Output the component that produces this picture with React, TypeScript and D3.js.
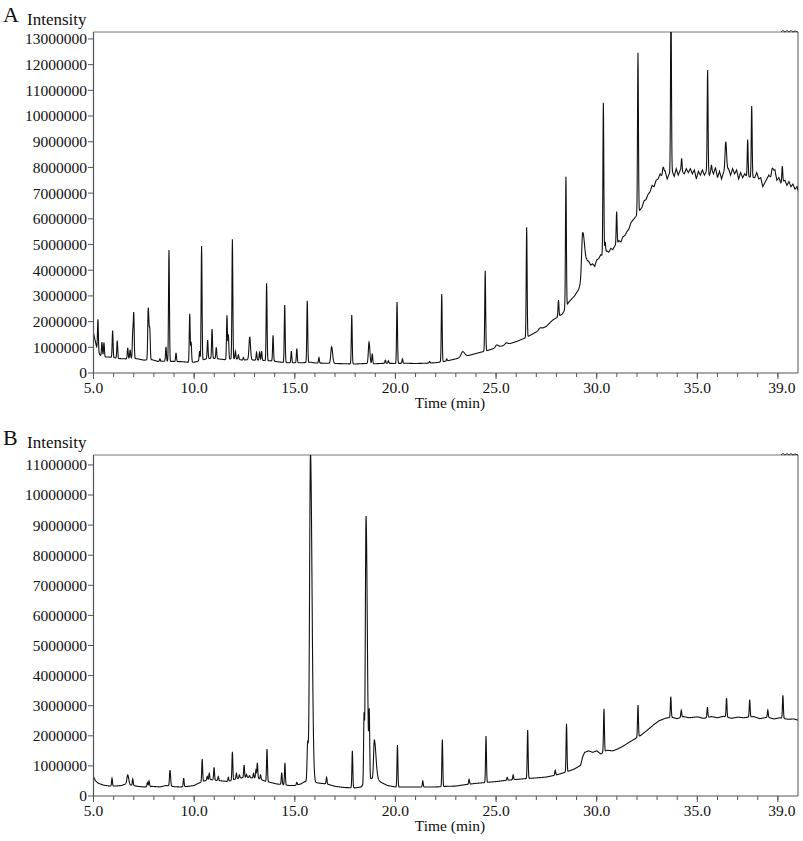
import React from 'react';
import * as d3 from 'd3';

// ---- data (time in min, intensity in millions) ----
const xMajorTicks = [5, 10, 15, 20, 25, 30, 35, 39];
const xTickLabels = ['5.0', '10.0', '15.0', '20.0', '25.0', '30.0', '35.0', '39.0'];
const yTicksA = [0, 1, 2, 3, 4, 5, 6, 7, 8, 9, 10, 11, 12, 13];
const yTicksB = [0, 1, 2, 3, 4, 5, 6, 7, 8, 9, 10, 11];

const baselineA: [number, number][] = [
  [5.0, 1.55], [5.1, 1.2], [5.2, 0.85], [5.35, 0.68], [5.6, 0.62], [5.8, 0.62], [6.0, 0.6], [6.3, 0.56],
  [6.6, 0.55], [6.9, 0.58], [7.2, 0.55], [7.5, 0.5], [7.9, 0.52], [8.2, 0.45], [8.6, 0.46], [9.0, 0.45],
  [9.4, 0.44], [9.7, 0.42], [10.0, 0.42], [10.3, 0.48], [10.6, 0.55], [10.9, 0.58], [11.2, 0.55], [11.5, 0.52],
  [11.8, 0.55], [12.1, 0.55], [12.4, 0.5], [12.7, 0.52], [13.0, 0.5], [13.3, 0.5], [13.6, 0.48], [13.9, 0.47],
  [14.2, 0.43], [14.6, 0.4], [15.0, 0.4], [15.4, 0.4], [15.8, 0.42], [16.0, 0.39], [16.5, 0.38], [17.0, 0.37],
  [17.5, 0.36], [18.0, 0.35], [18.5, 0.37], [19.0, 0.36], [19.5, 0.38], [20.0, 0.37], [20.5, 0.38], [21.0, 0.37],
  [21.5, 0.38], [22.0, 0.4], [22.5, 0.46], [23.0, 0.55], [23.5, 0.65], [24.0, 0.76], [24.5, 0.86], [25.0, 0.98],
  [25.5, 1.1], [26.0, 1.22], [26.5, 1.38], [27.0, 1.6], [27.5, 1.82], [27.8, 2.05], [28.0, 2.15], [28.3, 2.3],
  [28.6, 2.75], [28.9, 3.0], [29.1, 3.25], [29.3, 3.7], [29.5, 4.3], [29.6, 4.35], [29.7, 4.2], [29.8, 4.25],
  [29.9, 4.15], [30.0, 4.4], [30.1, 4.45], [30.2, 4.6], [30.3, 4.55], [30.5, 4.75], [30.6, 4.7], [30.7, 4.85],
  [30.8, 4.8], [30.9, 4.95], [31.0, 5.0], [31.1, 5.15], [31.2, 5.1], [31.3, 5.3], [31.4, 5.35], [31.5, 5.5],
  [31.6, 5.6], [31.7, 5.85], [31.8, 5.95], [31.9, 6.05], [32.0, 6.15], [32.15, 6.35], [32.25, 6.45], [32.35, 6.7],
  [32.45, 6.75], [32.55, 6.95], [32.65, 7.05], [32.75, 7.3], [32.85, 7.25], [32.95, 7.5], [33.05, 7.55],
  [33.15, 7.75], [33.25, 7.6], [33.4, 7.85], [33.5, 7.55], [33.6, 7.75], [33.75, 7.85], [33.85, 7.65],
  [33.95, 7.95], [34.05, 7.7], [34.15, 7.9], [34.35, 7.75], [34.45, 7.95], [34.55, 7.8], [34.65, 7.95],
  [34.75, 7.75], [34.85, 7.9], [34.95, 7.55], [35.05, 7.85], [35.15, 7.7], [35.25, 7.9], [35.35, 7.7],
  [35.45, 7.85], [35.6, 7.7], [35.7, 7.95], [35.8, 7.75], [35.9, 8.0], [36.0, 7.6], [36.1, 7.85], [36.2, 7.55],
  [36.3, 7.8], [36.55, 7.95], [36.65, 7.7], [36.75, 7.95], [36.85, 7.75], [36.95, 7.9], [37.05, 7.55],
  [37.15, 7.8], [37.25, 7.6], [37.35, 7.75], [37.45, 7.65], [37.85, 7.6], [37.95, 7.8], [38.05, 7.55],
  [38.15, 7.6], [38.25, 7.25], [38.35, 7.4], [38.45, 7.55], [38.55, 7.7], [38.65, 7.6], [38.85, 7.9],
  [38.95, 7.5], [39.05, 7.6], [39.15, 7.4], [39.35, 7.5], [39.45, 7.3], [39.55, 7.45], [39.65, 7.25],
  [39.75, 7.35], [39.85, 7.15], [39.95, 7.25], [40.0, 7.1],
];

// [time, apex, sigmaLeft, sigmaRight]
const peaksA: number[][] = [
  [5.22, 2.09], [5.42, 1.2], [5.52, 1.18], [5.95, 1.65], [6.18, 1.26], [6.70, 0.98], [6.82, 0.9],
  [6.95, 1.55], [7.0, 2.3], [7.72, 2.54, 0.025, 0.04], [7.8, 1.44], [8.3, 0.55], [8.6, 1.02], [8.75, 4.79],
  [9.1, 0.78], [9.78, 2.3], [9.85, 1.2], [10.27, 0.85], [10.37, 4.94], [10.67, 1.28], [10.89, 1.71],
  [11.1, 1.0], [11.63, 2.24], [11.7, 1.5], [11.9, 5.2], [12.05, 0.85], [12.2, 0.7], [12.45, 0.6],
  [12.76, 1.41, 0.035, 0.04], [13.1, 0.8], [13.25, 0.8], [13.35, 0.85], [13.6, 3.49], [13.92, 1.47],
  [14.5, 2.65], [14.83, 0.85], [15.1, 0.95], [15.62, 2.81], [16.2, 0.6], [16.83, 1.02, 0.04, 0.05],
  [17.83, 2.26], [18.69, 1.2, 0.035, 0.04], [18.85, 0.75], [19.5, 0.5], [19.65, 0.48], [20.08, 2.76],
  [20.35, 0.55], [21.7, 0.45], [22.3, 3.07], [22.55, 0.55], [23.34, 0.83, 0.08, 0.1], [24.46, 3.98],
  [25.03, 1.09, 0.06, 0.08], [25.5, 1.17, 0.06, 0.08], [26.52, 5.67], [27.18, 1.75, 0.06, 0.08],
  [28.1, 2.84], [28.47, 7.64], [29.3, 5.44, 0.05, 0.09], [30.33, 10.52], [30.42, 5.1], [30.99, 6.28],
  [32.05, 12.46], [33.3, 8.0, 0.04, 0.04], [33.69, 14.5], [34.22, 8.35], [35.51, 11.79], [35.7, 8.1],
  [36.41, 9.0, 0.035, 0.04], [37.5, 9.09], [37.7, 10.39], [38.72, 7.96, 0.04, 0.05], [39.22, 8.05],
];

const baselineB: [number, number][] = [
  [5.0, 0.64], [5.1, 0.5], [5.25, 0.42], [5.5, 0.36], [5.8, 0.33], [6.1, 0.33], [6.4, 0.35], [6.6, 0.4],
  [6.9, 0.36], [7.2, 0.32], [7.5, 0.3], [7.9, 0.32], [8.3, 0.3], [8.6, 0.35], [9.0, 0.31], [9.3, 0.3],
  [9.7, 0.32], [10.0, 0.35], [10.2, 0.42], [10.5, 0.5], [10.8, 0.55], [11.1, 0.52], [11.4, 0.5], [11.7, 0.48],
  [12.0, 0.55], [12.3, 0.6], [12.6, 0.62], [12.9, 0.6], [13.2, 0.58], [13.5, 0.5], [13.8, 0.45], [14.1, 0.4],
  [14.4, 0.38], [14.7, 0.35], [15.0, 0.35], [15.3, 0.4], [15.5, 0.48], [16.0, 0.45], [16.3, 0.42], [16.6, 0.4],
  [17.0, 0.32], [17.5, 0.28], [18.0, 0.27], [18.3, 0.3], [18.6, 0.55], [19.0, 0.6], [19.3, 0.45], [19.6, 0.35],
  [20.0, 0.3], [20.5, 0.3], [21.0, 0.3], [21.5, 0.3], [22.0, 0.3], [22.5, 0.32], [23.0, 0.33], [23.5, 0.38],
  [24.0, 0.42], [24.5, 0.45], [25.0, 0.48], [25.5, 0.52], [26.0, 0.55], [26.5, 0.58], [27.0, 0.6], [27.5, 0.63],
  [28.0, 0.7], [28.5, 0.8], [28.9, 0.9], [29.2, 1.02], [29.3, 1.3], [29.4, 1.45], [29.6, 1.5], [29.8, 1.45],
  [30.0, 1.5], [30.2, 1.4], [30.5, 1.52], [30.8, 1.5], [31.0, 1.55], [31.3, 1.65], [31.6, 1.78], [31.9, 1.9],
  [32.2, 2.02], [32.5, 2.18], [32.8, 2.35], [33.1, 2.5], [33.4, 2.58], [33.7, 2.62], [34.0, 2.57], [34.3, 2.64],
  [34.6, 2.6], [35.0, 2.63], [35.3, 2.58], [35.7, 2.64], [36.0, 2.6], [36.3, 2.65], [36.7, 2.58], [37.0, 2.62],
  [37.3, 2.6], [37.8, 2.64], [38.1, 2.57], [38.5, 2.62], [38.8, 2.56], [39.1, 2.6], [39.5, 2.55], [39.8, 2.56],
  [40.0, 2.52],
];

const peaksB: number[][] = [
  [5.92, 0.59], [6.7, 0.7, 0.04, 0.05], [6.95, 0.57], [7.68, 0.45], [7.76, 0.5], [8.8, 0.86, 0.025, 0.03],
  [9.48, 0.59], [10.4, 1.23], [10.65, 0.65], [10.75, 0.75], [10.99, 0.95], [11.2, 0.65], [11.7, 0.62],
  [11.9, 1.47], [12.1, 0.75], [12.25, 0.7], [12.48, 1.03], [12.6, 0.72], [12.75, 0.68], [12.95, 0.75],
  [13.07, 0.86], [13.14, 1.1], [13.3, 0.7], [13.62, 1.56], [14.35, 0.78], [14.51, 1.1], [15.1, 0.45],
  [15.64, 1.73, 0.03, 0.03], [15.78, 11.4, 0.045, 0.075], [16.58, 0.62], [17.86, 1.5], [18.44, 2.63],
  [18.54, 9.3, 0.035, 0.06], [18.7, 2.66], [18.95, 1.86, 0.035, 0.08], [20.1, 1.69], [21.36, 0.5],
  [22.33, 1.88], [23.66, 0.55], [24.5, 1.99], [25.55, 0.62], [25.85, 0.7], [26.57, 2.19], [27.94, 0.86],
  [28.5, 2.4], [30.36, 2.9], [32.05, 3.02], [33.68, 3.3], [34.2, 2.85], [35.5, 2.95], [36.45, 3.25],
  [37.6, 3.2], [38.5, 2.85], [39.25, 3.35],
];

// ---- layout ----
const W = 803;
const H = 841;
const LEFT = 93.5;
const RIGHT = 798;
const FONT = '"Liberation Serif", "Times New Roman", serif';

const x = d3.scaleLinear().domain([5, 40]).range([LEFT, RIGHT]);

function baseAt(base: [number, number][], t: number) {
  const i = d3.bisector((d: [number, number]) => d[0]).right(base, t);
  if (i <= 0) return base[0][1];
  if (i >= base.length) return base[base.length - 1][1];
  const [t0, v0] = base[i - 1];
  const [t1, v1] = base[i];
  return v0 + ((v1 - v0) * (t - t0)) / (t1 - t0);
}

function buildTrace(base: [number, number][], peaks: number[][]) {
  const times = new Set<number>();
  for (let k = 0; k <= 3500; k++) times.add(+(5 + k * 0.01).toFixed(3));
  base.forEach((d) => times.add(d[0]));
  peaks.forEach((p) => times.add(p[0]));
  const ts = Array.from(times).sort((a, b) => a - b);
  const amps = peaks.map((p) => p[1] - baseAt(base, p[0]));
  return ts.map((t) => {
    let v = baseAt(base, t);
    peaks.forEach((p, i) => {
      const sl = p[2] ?? 0.022;
      const sr = p[3] ?? sl;
      const dt = t - p[0];
      const s = dt < 0 ? sl : sr;
      const u = dt / s;
      if (Math.abs(u) < 6) v += amps[i] * Math.exp(-0.5 * u * u);
    });
    return [t, v] as [number, number];
  });
}

type PanelProps = {
  id: string;
  letter: string;
  top: number;
  bottom: number;
  yMax: number;
  yTicks: number[];
  base: [number, number][];
  peaks: number[][];
};

function Panel({ id, letter, top, bottom, yMax, yTicks, base, peaks }: PanelProps) {
  const y = d3.scaleLinear().domain([0, yMax]).range([bottom, top]);
  const trace = buildTrace(base, peaks);
  const line = d3
    .line<[number, number]>()
    .x((d) => x(d[0]))
    .y((d) => y(d[1]));
  const minor = d3.range(5, 40);
  const mark = `M${RIGHT - 17},${top} l2,-1.5 l2,1.5 l2,-1.5 l2,1.5 l2,-1.5 l2,1.5 l2,-1 l3,1`;
  return (
    <g>
      <defs>
        <clipPath id={`clip-${id}`}>
          <rect x={LEFT} y={top} width={RIGHT - LEFT} height={bottom - top} />
        </clipPath>
      </defs>
      <text x={3} y={top - 10} fontFamily={FONT} fontSize={22} fill="#111">
        {letter}
      </text>
      <text x={27} y={top - 7} fontFamily={FONT} fontSize={17} fill="#111">
        Intensity
      </text>
      {/* frame */}
      <line x1={LEFT} x2={RIGHT} y1={top} y2={top} stroke="#777" strokeWidth={1} />
      <line x1={RIGHT} x2={RIGHT} y1={top} y2={bottom} stroke="#555" strokeWidth={1} />
      <path d={mark} fill="none" stroke="#333" strokeWidth={1} />
      <path d={line(trace) || ''} fill="none" stroke="#111" strokeWidth={1.1} clipPath={`url(#clip-${id})`} />
      {/* y axis */}
      <line x1={LEFT} x2={LEFT} y1={top} y2={bottom} stroke="#555" strokeWidth={1.2} />
      {yTicks.map((v) => (
        <g key={v}>
          <line x1={LEFT - 5.5} x2={LEFT} y1={y(v)} y2={y(v)} stroke="#555" strokeWidth={1} />
          <text
            x={LEFT - 6.5}
            y={y(v)}
            dy="0.35em"
            textAnchor="end"
            fontFamily={FONT}
            fontSize={15.5}
            fill="#111"
          >
            {String(v * 1000000)}
          </text>
        </g>
      ))}
      {/* x axis */}
      <line x1={LEFT} x2={RIGHT} y1={bottom} y2={bottom} stroke="#555" strokeWidth={1.2} />
      {minor.map((t) => (
        <line key={t} x1={x(t)} x2={x(t)} y1={bottom} y2={bottom + 4} stroke="#555" strokeWidth={1} />
      ))}
      {xMajorTicks.map((t, i) => (
        <g key={t}>
          <line x1={x(t)} x2={x(t)} y1={bottom} y2={bottom + 6} stroke="#555" strokeWidth={1} />
          <text
            x={x(t) + (t === 39 ? 4 : 0)}
            y={bottom + 19.5}
            textAnchor="middle"
            fontFamily={FONT}
            fontSize={15.5}
            fill="#111"
          >
            {xTickLabels[i]}
          </text>
        </g>
      ))}
      <text x={450} y={bottom + 35} textAnchor="middle" fontFamily={FONT} fontSize={15.5} fill="#111">
        Time (min)
      </text>
    </g>
  );
}

export default function App() {
  return (
    <svg
      width={W}
      height={H}
      viewBox={`0 0 ${W} ${H}`}
      style={{ position: 'absolute', left: 0, top: 0, background: '#fff' }}
    >
      <rect width={W} height={H} fill="#fff" />
      <Panel id="a" letter="A" top={32} bottom={373} yMax={13.27} yTicks={yTicksA} base={baselineA} peaks={peaksA} />
      <Panel id="b" letter="B" top={455} bottom={796} yMax={11.33} yTicks={yTicksB} base={baselineB} peaks={peaksB} />
    </svg>
  );
}
